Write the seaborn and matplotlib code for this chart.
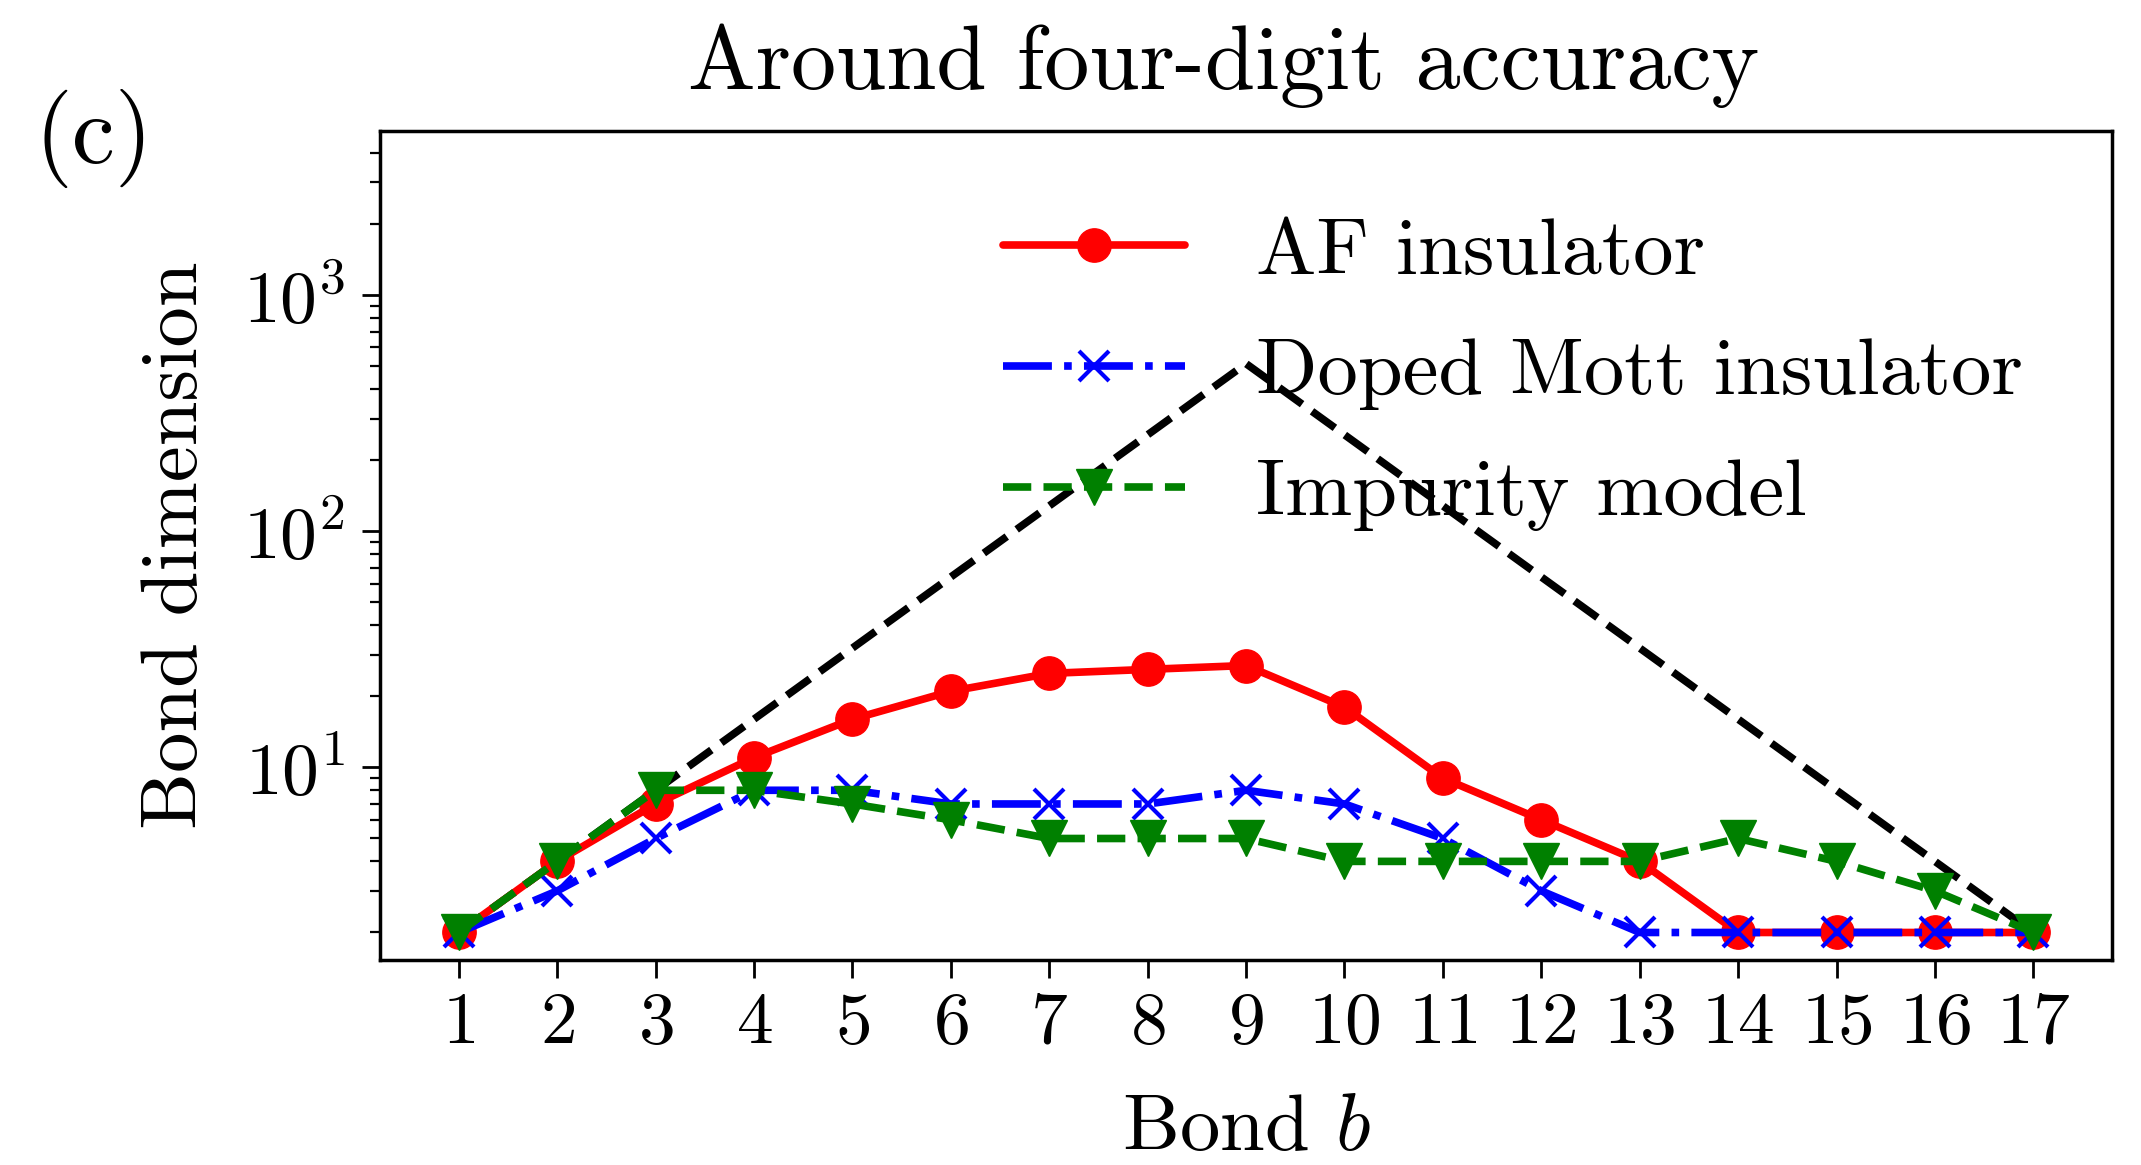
import matplotlib
matplotlib.use("Agg")
import matplotlib.pyplot as plt
import seaborn as sns
from matplotlib.ticker import FixedLocator, NullLocator

# Bond index along the chain
bonds = list(range(1, 18))

# Bond dimensions needed for ~four-digit accuracy
af_insulator = [2, 4, 7, 11, 16, 21, 25, 26, 27, 18, 9, 6, 4, 2, 2, 2, 2]
doped_mott = [2, 3, 5, 8, 8, 7, 7, 7, 8, 7, 5, 3, 2, 2, 2, 2, 2]
impurity = [2, 4, 8, 8, 7, 6, 5, 5, 5, 4, 4, 4, 4, 5, 4, 3, 2]
# Maximal (exact) bond dimension
max_dim = [2, 4, 8, 16, 32, 64, 128, 256, 512, 256, 128, 64, 32, 16, 8, 4, 2]

series_labels = ["AF insulator", "Doped Mott insulator", "Impurity model"]

RED, BLUE, GREEN, BLACK = "#ff0000", "#0000ff", "#008000", "#000000"

sns.set_theme(style="ticks")
plt.rcParams["font.family"] = ["cmr10", "DejaVu Sans"]
plt.rcParams["mathtext.fontset"] = "cm"
plt.rcParams["axes.formatter.use_mathtext"] = True
plt.rcParams["axes.unicode_minus"] = False
for key in ["text.color", "axes.labelcolor", "xtick.color", "ytick.color",
            "axes.edgecolor"]:
    plt.rcParams[key] = BLACK

fig = plt.figure(figsize=(21.41, 11.65), dpi=100)
ax = fig.add_axes([0.1775, 0.176, 0.8090, 0.7116])

LW = 5.5
sns.lineplot(x=bonds, y=max_dim, ax=ax, color=BLACK, linestyle="--",
             zorder=2)
sns.lineplot(x=bonds, y=af_insulator, ax=ax, color=RED, linestyle="-",
             marker="o", markersize=24, markeredgecolor=RED,
             markeredgewidth=1, label=series_labels[0], zorder=3)
sns.lineplot(x=bonds, y=doped_mott, ax=ax, color=BLUE, linestyle="-.",
             marker="x", markersize=22, markeredgecolor=BLUE,
             markeredgewidth=3, label=series_labels[1], zorder=3)
sns.lineplot(x=bonds, y=impurity, ax=ax, color=GREEN, linestyle="--",
             marker="v", markersize=26, markeredgecolor=GREEN,
             markeredgewidth=1, label=series_labels[2], zorder=3)

# Thick strokes for every curve (dash patterns rescale with the width)
for line in ax.get_lines():
    line.set_linewidth(LW)

ax.set_yscale("log")
ax.set_ylim(1.53, 4950)
ax.set_xlim(0.2, 17.8)
ax.xaxis.set_major_locator(FixedLocator(bonds))
ax.xaxis.set_minor_locator(NullLocator())

for sp in ax.spines.values():
    sp.set_visible(True)
    sp.set_linewidth(2.5)
    sp.set_color(BLACK)

ax.tick_params(axis="both", which="major", direction="out", length=13,
               width=2, labelsize=53, color=BLACK, labelcolor=BLACK, pad=10)
ax.tick_params(axis="y", which="minor", direction="out", length=7,
               width=1.6, color=BLACK)
ax.tick_params(axis="y", which="major", pad=12)

ax.set_title("Around four-digit accuracy", fontsize=65, pad=30, x=0.487,
             color=BLACK)
ax.set_xlabel("Bond $b$", fontsize=58, color=BLACK)
ax.set_ylabel("Bond dimension", fontsize=58, color=BLACK)
ax.yaxis.set_label_coords(-0.0965, 0.5)
ax.xaxis.set_label_coords(0.5, -0.162)

handles, labels = ax.get_legend_handles_labels()
leg = ax.legend(handles, labels, loc="upper left",
                bbox_to_anchor=(0.4685, 0.8135),
                bbox_transform=fig.transFigure, frameon=False, fontsize=58,
                handlelength=2.26, handletextpad=0.88, labelspacing=0.6,
                borderpad=0, borderaxespad=0)
for txt in leg.get_texts():
    txt.set_color(BLACK)

fig.text(0.016, 0.86, "(c)", fontsize=70, ha="left", va="baseline",
         color=BLACK)

fig.savefig("out.png", dpi=100)
